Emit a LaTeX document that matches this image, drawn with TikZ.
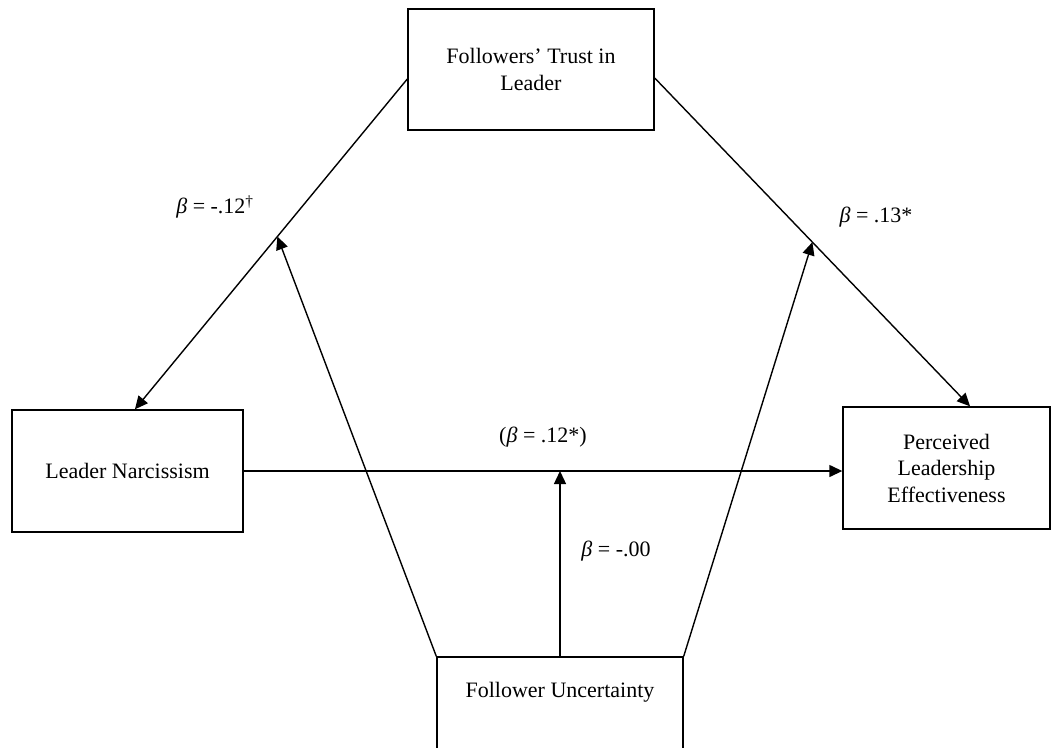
\documentclass[tikz,border=0pt]{standalone}
\usepackage{fontspec}
\setmainfont{Liberation Serif}
\usetikzlibrary{arrows.meta,calc}
\begin{document}
\begin{tikzpicture}[x=1pt,y=-1pt,
  box/.style={draw, line width=1.4pt, align=center, inner sep=0pt, font=\fontsize{22}{26.5}\selectfont},
  lab/.style={inner sep=0pt, font=\fontsize{22}{26}\selectfont},
  conn/.style={line width=1.4pt, -{Triangle[length=13pt,width=12pt]}}]
\useasboundingbox (0,0) rectangle (1052,747);
\node[box, minimum width=246pt, minimum height=121pt] (trust) at (531,69.5) {Followers’ Trust in\\Leader};
\node[box, minimum width=231pt, minimum height=122pt] (narc) at (127.5,471) {Leader Narcissism};
\node[box, minimum width=207pt, minimum height=122pt] (perc) at (946.5,468) {Perceived\\Leadership\\Effectiveness};
\node[box, minimum width=246pt, minimum height=100pt, text height=15pt, text depth=34pt] (unc) at (560,707) {Follower Uncertainty};

\coordinate (tl) at ($(trust.west)+(0,9.5)$);
\coordinate (tr) at ($(trust.east)+(0,8.5)$);
\coordinate (nt) at ($(narc.north west)!0.532!(narc.north east)$);
\coordinate (pt) at ($(perc.north west)!0.613!(perc.north east)$);
\draw[conn] (tl) -- (nt);
\draw[conn] (tr) -- (pt);
\draw[conn] (narc.east) -- (narc.east -| perc.west);
\coordinate (hm) at (narc.east -| unc.north);
\draw[conn] (unc.north) -- (hm);
\coordinate (lm) at ($(tl)!0.477!(nt)$);
\coordinate (rm) at ($(tr)!0.5!(pt)$);
\draw[conn] (unc.north west) -- (lm);
\draw[conn] (unc.north east) -- (rm);

\node[lab] (l1) at (215,207) {\textit{β} = -.12\textsuperscript{†}};
\node[lab] (l2) at (876,217) {\textit{β} = .13*};
\node[lab] (l3) at (543,437) {(\textit{β} = .12*)};
\node[lab] (l4) at (616,551) {\textit{β} = -.00};
\end{tikzpicture}
\end{document}
